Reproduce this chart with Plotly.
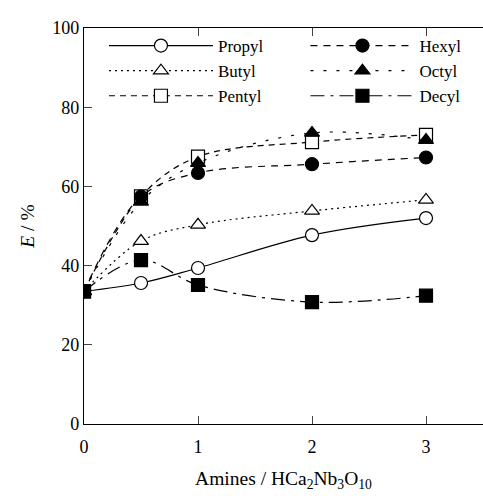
import plotly.graph_objects as go

x = [0, 0.5, 1, 2, 3]
propyl = [33.5, 35.6, 39.4, 47.7, 52.0]
butyl = [33.5, 46.2, 50.3, 53.8, 56.6]
pentyl = [33.5, 57.5, 67.5, 71.2, 73.0]
hexyl = [33.5, 57.4, 63.4, 65.6, 67.3]
octyl = [33.5, 56.1, 65.9, 73.5, 71.7]
decyl = [33.5, 41.4, 35.1, 30.8, 32.4]

series = [
    ("Propyl", propyl, "circle", "solid", "white", "legend"),
    ("Butyl", butyl, "triangle-up", "2px,4px", "white", "legend"),
    ("Pentyl", pentyl, "square", "6px,5px", "white", "legend"),
    ("Hexyl", hexyl, "circle", "7px,6px", "black", "legend2"),
    ("Octyl", octyl, "triangle-up", "3px,10px", "black", "legend2"),
    ("Decyl", decyl, "square", "14px,6px,3px,6px", "black", "legend2"),
]

fig = go.Figure()
for name, ys, sym, dash, fill, leg in series:
    fig.add_trace(go.Scatter(
        x=x, y=ys, name=name, mode="lines+markers", legend=leg,
        line=dict(color="black", width=1.2, dash=dash, shape="spline", smoothing=1.0),
        marker=dict(symbol=sym, size=13, color=fill,
                    line=dict(color="black", width=1.2)),
    ))

font = dict(family="Liberation Serif", size=18, color="black")
tfont = dict(family="Liberation Serif", size=19.5, color="black")
lfont = dict(family="Liberation Serif", size=17, color="black")
legcommon = dict(orientation="v", y=1.0, xanchor="left", yanchor="top",
                 itemwidth=104, tracegroupgap=0, bgcolor="rgba(0,0,0,0)",
                 font=lfont, itemclick=False, itemdoubleclick=False)
fig.update_layout(
    width=483, height=496,
    margin=dict(l=84, r=0, t=28, b=72),
    paper_bgcolor="white", plot_bgcolor="white",
    font=font,
    showlegend=True,
    legend=dict(x=0.05, **legcommon),
    legend2=dict(x=0.555, **legcommon),
    xaxis=dict(range=[0, 3.5], tickvals=[0, 1, 2, 3], ticks="inside", ticklen=8,
               showline=True, linecolor="black", linewidth=1.3, mirror="ticks",
               showgrid=False, zeroline=False, tickfont=font, automargin=False,
               ticklabelstandoff=6,
               title=dict(text="Amines / HCa<sub>2</sub>Nb<sub>3</sub>O<sub>10</sub>", font=tfont, standoff=15)),
    yaxis=dict(range=[0, 100], tickvals=[0, 20, 40, 60, 80, 100], ticks="inside", ticklen=8,
               showline=True, linecolor="black", linewidth=1.3, mirror=False,
               showgrid=False, zeroline=False, tickfont=font, automargin=False,
               title=dict(text="<i>E</i> / %", font=tfont, standoff=12)),
)
fig.write_html("out.html", config={"displayModeBar": False},
               post_script="document.body.style.margin='0px';")
